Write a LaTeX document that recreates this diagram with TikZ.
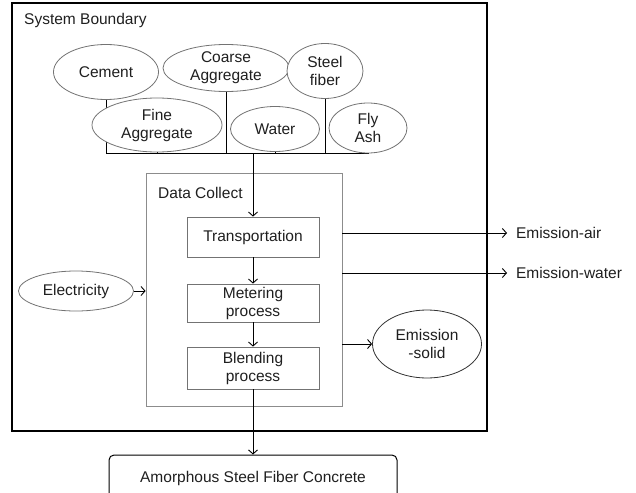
\documentclass[tikz,border=0pt]{standalone}
\usepackage{fontspec}
\setmainfont{Liberation Sans}
\usetikzlibrary{arrows.meta,shapes.geometric,backgrounds}
\begin{document}
\begin{tikzpicture}[x=1pt,y=-1pt,
  font=\fontsize{15.5}{18}\selectfont, text=black!88,
  ell/.style={ellipse,draw=black!55,line width=0.8pt,fill=white,inner sep=0pt,align=center},
  pbox/.style={rectangle,draw=black!55,line width=0.8pt,inner sep=0pt,align=center,minimum width=132pt},
  conn/.style={draw=black,line width=0.9pt},
  arr/.style={conn,-{Straight Barb[length=4pt,width=9pt]}},
  emlabel/.style={anchor=west,inner sep=0pt,outer xsep=9pt}]
\useasboundingbox (0,0) rectangle (636,492);
\clip (0,0) rectangle (636,492);
% system boundary
\node[draw=black,line width=2pt,minimum width=475pt,minimum height=428pt,inner sep=0pt] (sb) at (249.5,217) {};
\node[anchor=west,inner sep=0pt] (sblabel) at (24,20) {System Boundary};
% materials
\node[ell,minimum width=105pt,minimum height=55pt] (cement) at (106,72) {Cement};
\node[ell,minimum width=126pt,minimum height=47pt] (coarse) at (226,68) {Coarse\\Aggregate};
\node[ell,minimum width=76pt,minimum height=55pt] (steel) at (325,71) {Steel\\fiber};
\node[ell,minimum width=130pt,minimum height=54pt] (fine) at (157,125) {Fine\\Aggregate};
\node[ell,minimum width=89pt,minimum height=45pt] (water) at (275,129) {Water};
\node[ell,minimum width=78pt,minimum height=50pt] (fly) at (368,128) {Fly\\Ash};
\coordinate (busL) at (106,153);
\coordinate (busR) at (369,153);
\begin{scope}[on background layer]
\draw[conn] (cement.south) -- (cement.south |- busL);
\draw[conn] (fine.south) -- (fine.south |- busL);
\draw[conn] (coarse.south) -- (coarse.south |- busL);
\draw[conn] (water.south) -- (water.south |- busL);
\draw[conn] (steel.south) -- (steel.south |- busL);
\draw[conn] (fly.south) -- (fly.south |- busL);
\draw[conn] (busL) -- (busR);
\end{scope}
% data collect
\node[draw=black!45,line width=0.8pt,minimum width=196pt,minimum height=233pt,inner sep=0pt] (dc) at (244,289.5) {};
\node[anchor=west,inner sep=0pt] (dclabel) at (158,193) {Data Collect};
\node[pbox,minimum height=40pt] (trans) at (253,237) {Transportation};
\node[pbox,minimum height=38pt] (meter) at (253,303) {Metering\\process};
\node[pbox,minimum height=42pt] (blend) at (253,368) {Blending\\process};
\draw[arr] (trans.north |- busL) -- (trans.north);
\draw[arr] (trans) -- (meter);
\draw[arr] (meter) -- (blend);
% electricity
\node[ell,minimum width=115pt,minimum height=40pt] (elec) at (76,291) {Electricity};
\draw[arr] (elec.east) -- (elec.east -| dc.west);
% emissions
\node[emlabel] (eair) at (507,233) {Emission-air};
\node[emlabel] (ewater) at (507,273) {Emission-water};
\node[ell,draw=black!80,minimum width=109pt,minimum height=68pt] (esolid) at (427,344) {Emission\\-solid};
\draw[arr] (eair.west -| dc.east) -- (eair.west);
\draw[arr] (ewater.west -| dc.east) -- (ewater.west);
\draw[arr] (esolid.west -| dc.east) -- (esolid.west);
% output
\node[draw=black,line width=1pt,rounded corners=5pt,minimum width=288pt,minimum height=45pt,inner sep=0pt,text depth=0pt] (amor) at (253,477.5) {\raisebox{2pt}{Amorphous Steel Fiber Concrete}};
\draw[arr] (blend.south) -- (amor.north);
\end{tikzpicture}
\end{document}
